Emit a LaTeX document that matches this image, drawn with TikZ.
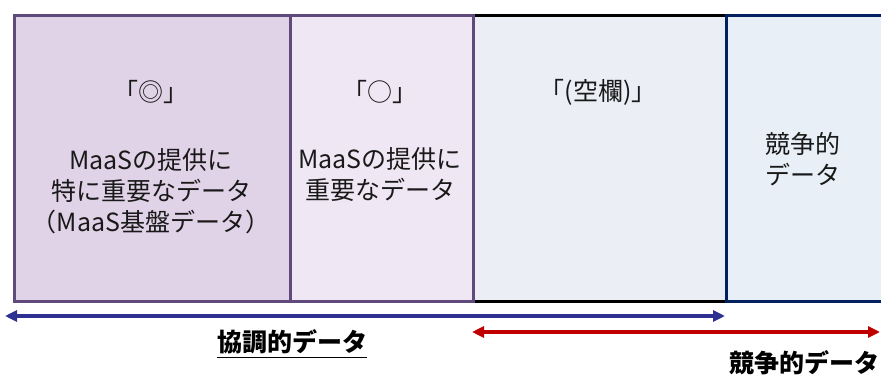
\documentclass[tikz,border=0pt]{standalone}
\usepackage{fontspec}
\setmainfont{Noto Sans CJK JP}
\usepackage{xcolor}
\usetikzlibrary{positioning}
\usetikzlibrary{arrows.meta}
\definecolor{purpleline}{HTML}{604A7B}
\definecolor{navyline}{HTML}{002060}
\definecolor{fillA}{HTML}{E0D2E7}
\definecolor{fillB}{HTML}{EFE7F3}
\definecolor{fillC}{HTML}{ECEEF6}
\definecolor{fillD}{HTML}{E9EFF7}
\definecolor{coopblue}{HTML}{2E3192}
\definecolor{compred}{HTML}{C00000}
\tikzstyle{cell}=[draw, rectangle, anchor=north west, inner sep=0pt, minimum height=143pt, line width=1.6pt]
\tikzstyle{symb}=[text=black!90, font=\fontsize{12.5}{15.5}\selectfont]
\tikzstyle{desc}=[text=black!90, align=center, font=\fontsize{12.5}{15.5}\selectfont]
\tikzstyle{spanarrow}=[line width=1.6pt, {Triangle[length=6pt,width=5.5pt]}-{Triangle[length=6pt,width=5.5pt]}]
\tikzstyle{spanlabel}=[text=black, inner sep=0pt, font=\fontsize{12.5}{15}\selectfont\bfseries]

\begin{document}
\begin{tikzpicture}[x=0.5pt, y=-0.5pt]
				\useasboundingbox (0,0) rectangle (881,379);
				
				% columns
				\node (blank) [cell, fill=fillC, draw=black, minimum width=126.5pt] at (472,14) {};
				\node (comp) [cell, fill=fillD, draw=navyline, minimum width=79.5pt] at (725,14) {};
				\node (base) [cell, fill=fillA, draw=purpleline, minimum width=138pt] at (13,14) {};
				\node (imp) [cell, fill=fillB, draw=purpleline, minimum width=91.5pt] at (289,14) {};
				
				% column texts
				\node (basemark) [symb] at (151,92) {「◎」};
				\node (basetext) [desc] at (151,191) {MaaSの提供に\\特に重要なデータ\\（MaaS基盤データ）};
				\node (impmark) [symb] at (380,92) {「○」};
				\node (imptext) [desc] at (380,175) {MaaSの提供に\\重要なデータ};
				\node (blankmark) [symb] at (598,92) {「(空欄)」};
				\node (comptext) [desc] at (803,159) {競争的\\データ};
				
				% spans
				\coordinate (coopL) at (5,316);
				\coordinate (coopR) at (725,316);
				\coordinate (compL) at (472,332);
				\coordinate (compR) at (880,332);
				\draw [spanarrow, coopblue] (coopL) to (coopR);
				\draw [spanarrow, compred] (compL) to (compR);
				
				\node (cooplabel) [spanlabel] at (292,344) {\underline{協調的データ}};
				\node (complabel) [spanlabel, anchor=east] at (880,363) {競争的データ};
				\end{tikzpicture}
\end{document}
